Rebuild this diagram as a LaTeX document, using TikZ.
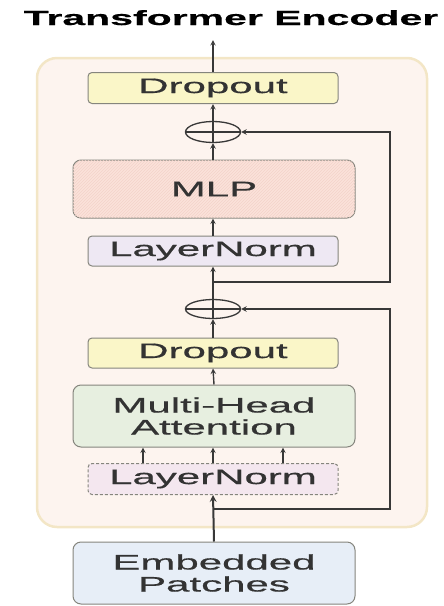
\documentclass[tikz,border=0pt]{standalone}
\usepackage{fontspec}
\setmainfont{Liberation Sans}
\newfontfamily\widefont[FakeStretch=2.0,FakeBold=0.6]{Liberation Sans}
\usetikzlibrary{arrows,backgrounds,calc,shapes,patterns}
\definecolor{encfill}{HTML}{FDF4EF}
\definecolor{encline}{HTML}{F3E6C6}
\definecolor{boxline}{HTML}{85857D}
\definecolor{dropfill}{HTML}{FAF6C8}
\definecolor{mlpfill}{HTML}{FBE2DA}
\definecolor{hatch}{HTML}{F3D3CA}
\definecolor{normfill}{HTML}{EEE8F3}
\definecolor{normfillb}{HTML}{F4E7EF}
\definecolor{mhafill}{HTML}{E7EFE0}
\definecolor{embfill}{HTML}{E7EEF7}
\definecolor{txt}{HTML}{333333}
\definecolor{wire}{HTML}{383838}

\begin{document}
\begin{tikzpicture}[x=1pt,y=-1pt,
  block/.style={draw=boxline,line width=1pt,rounded corners=4pt,minimum width=250pt,
    minimum height=31pt,inner sep=0pt,text=txt,font=\widefont\fontsize{21}{22}\selectfont},
  bigblock/.style={block,minimum width=282pt,minimum height=60pt,rounded corners=8pt,align=center},
  sumnode/.style={ellipse,draw=wire,line width=1.3pt,minimum width=55pt,minimum height=21pt,inner sep=0pt},
  flow/.style={-stealth,draw=wire,line width=1.4pt}]
  \useasboundingbox (0,0) rectangle (444,606);

  % encoder frame
  \draw[fill=encfill,draw=encline,line width=2.5pt,rounded corners=20pt] (37,58) rectangle (427,527);
  \node[anchor=base,text=black,font=\widefont\bfseries\fontsize{20.5}{22}\selectfont] (title) at (231,25) {Transformer Encoder};

  % blocks
  \node[block,fill=dropfill] (drop2) at (213,88) {Dropout};
  \node[sumnode] (sum1) at (213,132) {};
  \node[bigblock,fill=mlpfill,minimum height=58pt,
    postaction={pattern=north east lines,pattern color=hatch}] (mlp) at (214,189) {MLP};
  \node[block,fill=normfill,minimum height=30pt] (norm2) at (213,251) {LayerNorm};
  \node[sumnode,minimum height=19pt] (sum2) at (213,309) {};
  \node[block,fill=dropfill,minimum height=30pt] (drop1) at (213,353) {Dropout};
  \node[bigblock,fill=mhafill,minimum height=62pt] (mha) at (214,416) {Multi-Head\\Attention};
  \node[block,fill=normfillb,densely dashed] (norm1) at (213,479) {LayerNorm};
  \node[bigblock,fill=embfill,minimum height=62pt] (emb) at (214,573) {Embedded\\Patches};

  \coordinate (out) at (213,40);
  \coordinate (j1) at (213,282);
  \coordinate (j2) at (213,509);
  \coordinate (rail) at (390,0);

  % plus signs
  \foreach \s in {sum1,sum2}
    \draw[wire,line width=1.3pt] (\s.north) -- (\s.south) (\s.west) -- (\s.east);

  % main path
  \draw[flow,line width=2pt] (emb.north) -- (norm1.south);
  \foreach \dx in {-70,0,70}
    \draw[flow] ($(norm1.north)+(\dx,0)$) -- ($(mha.south)+(\dx-1,0)$);
  \draw[flow] (mha.north) -- (drop1.south);
  \draw[flow] (drop1.north) -- (sum2.south);
  \draw[flow] (sum2.north) -- (norm2.south);
  \draw[flow] (norm2.north) -- (mlp.south -| norm2.north);
  \draw[flow] (mlp.north -| sum1.south) -- (sum1.south);
  \draw[flow] (sum1.north) -- (drop2.south);
  \draw[flow] (drop2.north) -- (out);

  % residual connections
  \draw[flow] (j2) -- (j2 -| rail) |- (sum2.east);
  \draw[flow] (j1) -- (j1 -| rail) |- (sum1.east);
\end{tikzpicture}
\end{document}
